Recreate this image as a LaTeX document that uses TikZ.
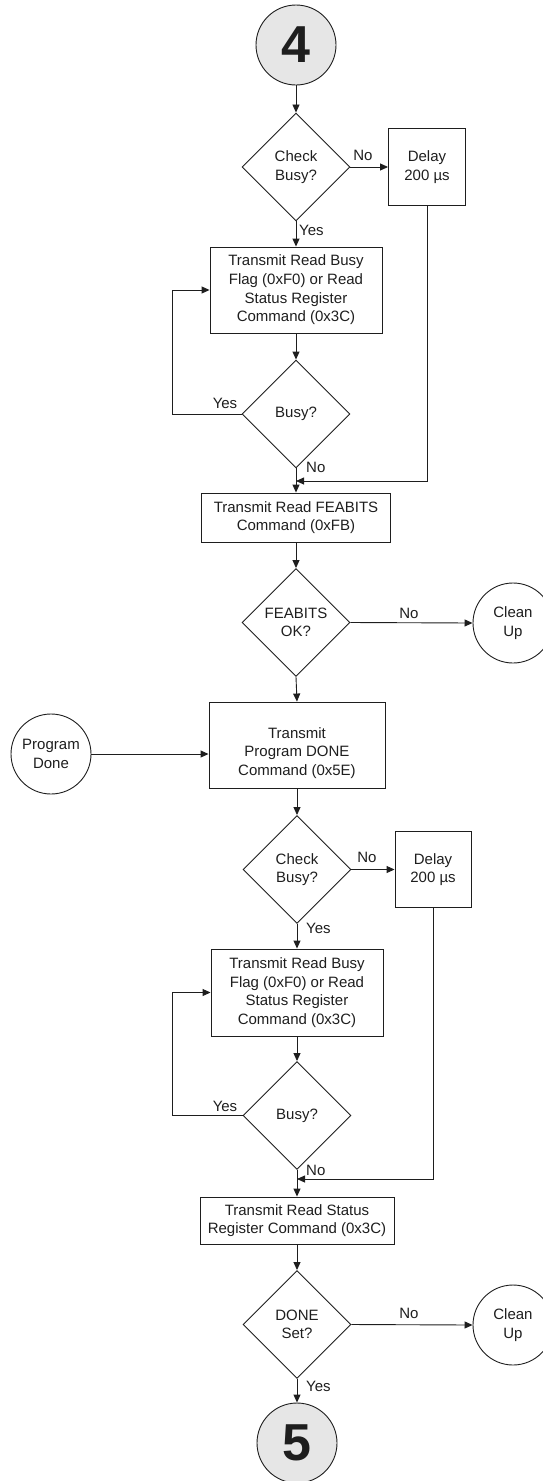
\documentclass[tikz,border=0pt]{standalone}
\usepackage{fontspec}
\setmainfont{Liberation Sans}
\usetikzlibrary{shapes.geometric,arrows.meta}
\definecolor{ink}{RGB}{30,30,30}
\definecolor{connfill}{RGB}{230,230,230}
\begin{document}
\begin{tikzpicture}[x=1pt,y=-1pt,
  font=\fontsize{15}{18.6}\selectfont,
  every node/.style={text=ink},
  box/.style={draw=ink, line width=0.9pt, rectangle, align=center, inner sep=2pt},
  dec/.style={draw=ink, line width=0.9pt, diamond, aspect=1, align=center, inner sep=0pt, minimum width=108pt, minimum height=108pt},
  term/.style={draw=ink, line width=0.9pt, circle, align=center, inner sep=0pt, minimum size=80pt},
  conn/.style={draw=ink, line width=0.9pt, circle, fill=connfill, inner sep=0pt, minimum size=80pt, font=\fontsize{52}{52}\selectfont\bfseries},
  flow/.style={draw=ink, line width=0.9pt, -{Triangle[length=8pt,width=7pt]}},
  wire/.style={draw=ink, line width=0.9pt},
  lbl/.style={inner sep=1pt}]
\useasboundingbox (0,0) rectangle (543,1481);

% ---------- first half ----------
\node[conn] (c4) at (296,45) {4};
\node[dec] (d1) at (296,167) {Check\\Busy?};
\node[box, minimum width=77pt, minimum height=77pt] (delay1) at (427,167) {Delay\\200 µs};
\node[box, minimum width=172pt, minimum height=86pt] (b1) at (296,290) {Transmit Read Busy\\Flag (0xF0) or Read\\Status Register\\Command (0x3C)};
\node[dec] (d2) at (296,414) {Busy?};
\node[box, minimum width=189pt, minimum height=49pt] (b2) at (296,517.5) {Transmit Read FEABITS\\Command (0xFB)};
\node[dec] (d3) at (296,622.5) {FEABITS\\OK?};
\node[term] (cu1) at (513,623) {Clean\\Up};
\node[box, minimum width=176pt, minimum height=86pt,
  label={[yshift=-8pt, align=center, text=ink]center:Transmit\\Program DONE\\Command (0x5E)}] (b3) at (297,745) {};
\node[term] (pd) at (51,754) {Program\\Done};

\coordinate (loopx) at (172,0);
\coordinate (j1) at (296,481);

\draw[flow] (c4) -- (d1);
\draw[flow] (d1.east) -- (delay1.west);
\draw[flow] (d1.south) -- (b1.north);
\draw[flow] (b1) -- (d2);
\draw[flow] (d2.west) -- (d2.west -| loopx) |- (b1.west);
\draw[flow] (d2.south) -- (b2.north);
\draw[flow] (delay1.south) -- (delay1.south |- j1) -- (j1);
\draw[flow] (b2) -- (d3);
\draw[flow] (d3.east) -- (cu1.west);
\draw[flow] (d3.south) -- (b3.north);
\draw[flow] (pd.east) -- (pd.east -| b3.west);

\node[lbl] at (363,155) {No};
\node[lbl, anchor=west] at (298,230) {Yes};
\node[lbl] at (225,403) {Yes};
\node[lbl, anchor=west] at (305,467) {No};
\node[lbl] at (409,613) {No};

% ---------- second half ----------
\node[dec] (d4) at (297,869.5) {Check\\Busy?};
\node[box, minimum width=76pt, minimum height=76pt] (delay2) at (433,869.5) {Delay\\200 µs};
\node[box, minimum width=172pt, minimum height=87pt] (b4) at (297,992.5) {Transmit Read Busy\\Flag (0xF0) or Read\\Status Register\\Command (0x3C)};
\node[dec] (d5) at (297,1115.5) {Busy?};
\node[box, minimum width=194pt, minimum height=47pt] (b5) at (297,1220.5) {Transmit Read Status\\Register Command (0x3C)};
\node[dec] (d6) at (297,1324.5) {DONE\\Set?};
\node[term] (cu2) at (513,1325) {Clean\\Up};
\node[conn] (c5) at (297,1443) {5};

\coordinate (j2) at (297,1179);

\draw[flow] (b3.south -| d4.north) -- (d4.north);
\draw[flow] (d4.east) -- (delay2.west);
\draw[flow] (d4.south) -- (b4.north);
\draw[flow] (b4) -- (d5);
\draw[flow] (d5.west) -- (d5.west -| loopx) |- (b4.west);
\draw[flow] (d5.south) -- (b5.north);
\draw[flow] (delay2.south) -- (delay2.south |- j2) -- (j2);
\draw[flow] (b5) -- (d6);
\draw[flow] (d6.east) -- (cu2.west);
\draw[flow] (d6.south) -- (c5.north);

\node[lbl] at (367,857) {No};
\node[lbl, anchor=west] at (305,928) {Yes};
\node[lbl] at (225,1106) {Yes};
\node[lbl, anchor=west] at (305,1170) {No};
\node[lbl] at (409,1313) {No};
\node[lbl, anchor=west] at (305,1386) {Yes};
\end{tikzpicture}
\end{document}
